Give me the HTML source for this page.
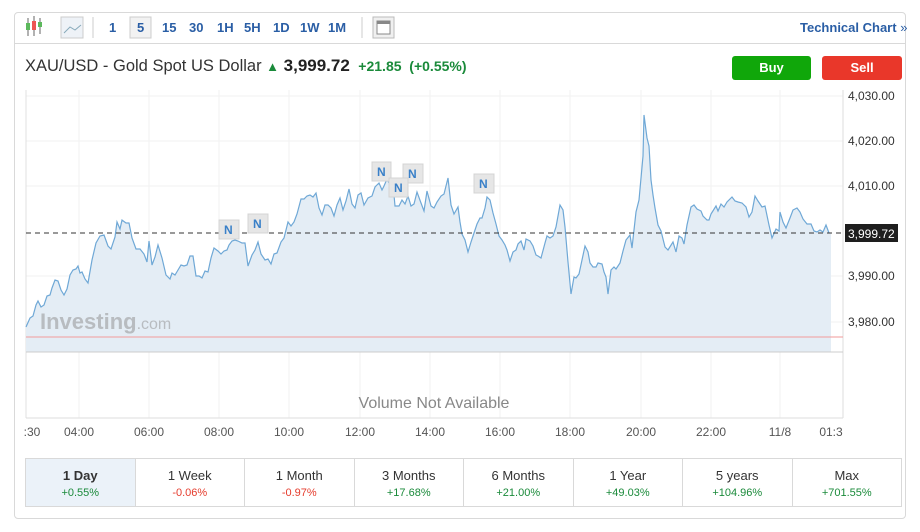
<!DOCTYPE html>
<html><head><meta charset="utf-8"><style>
body{margin:0;width:920px;height:532px;background:#fff;font-family:"Liberation Sans",Arial,sans-serif;overflow:hidden;position:relative}
.card{position:absolute;left:14px;top:12px;width:890px;height:505px;border:1px solid #d9d9d9;border-radius:4px}
.tb{position:absolute;left:14px;top:12px;width:891px;height:31px;border-bottom:1px solid #d9d9d9}
.t{position:absolute;top:20px;font-size:13px;font-weight:bold;color:#2a5ea5}
.title{position:absolute;left:25px;top:56px;font-size:16.5px;color:#333}
.btn{position:absolute;top:56px;height:24px;border-radius:3px;color:#fff;font-weight:bold;font-size:13px;text-align:center;line-height:24px}
.tabs{position:absolute;left:25px;top:458px;width:877px;height:49px;border:1px solid #d9d9d9;display:flex;box-sizing:border-box}
.tab{flex:1;border-right:1px solid #d9d9d9;text-align:center;font-size:13px;color:#333;padding-top:9px;box-sizing:border-box}
.tab:last-child{border-right:none}
.tab b{display:block;font-size:11px;margin-top:4px;font-weight:normal}
.g{color:#1a8a3a}.r{color:#e53b2c}
</style></head><body>
<div class="card"></div>
<div class="tb"></div>
<svg style="position:absolute;left:0;top:0" width="920" height="60">
<g stroke="#666" stroke-width="1"><line x1="28" y1="18" x2="28" y2="36"/><line x1="34" y1="16" x2="34" y2="36"/><line x1="40" y1="18" x2="40" y2="34"/></g>
<rect x="26" y="23" width="4" height="7" fill="#5cb85c"/><rect x="32" y="21" width="4" height="9" fill="#e55"/><rect x="38" y="22" width="4" height="5" fill="#5cb85c"/>
<rect x="61" y="17" width="22" height="21" fill="#eef2f7" stroke="#ccc"/><polyline points="64,33 70,27 75,30 81,25" fill="none" stroke="#8ab" stroke-width="1"/>
<line x1="93" y1="17" x2="93" y2="38" stroke="#ccc"/>
<rect x="130" y="17" width="21" height="21" fill="#f2f2f2" stroke="#ccc"/>
<line x1="362" y1="17" x2="362" y2="38" stroke="#ccc"/>
<rect x="373" y="17" width="21" height="21" fill="#f0f0f0" stroke="#bbb"/><rect x="377" y="21" width="13" height="13" fill="#fff" stroke="#888"/><rect x="377" y="21" width="13" height="3" fill="#888"/>
</svg>
<div class="t" style="left:109px">1</div><div class="t" style="left:137px">5</div><div class="t" style="left:162px">15</div><div class="t" style="left:189px">30</div><div class="t" style="left:217px">1H</div><div class="t" style="left:244px">5H</div><div class="t" style="left:273px">1D</div><div class="t" style="left:300px">1W</div><div class="t" style="left:328px">1M</div>
<div class="t" style="left:800px">Technical Chart <span style="font-weight:normal">»</span></div>
<div class="title">XAU/USD - Gold Spot US Dollar <span style="color:#1a8a3a;font-size:13px">&#9650;</span> <b style="font-size:17px;color:#222">3,999.72</b> <b style="font-size:14px;color:#1a8a3a">&nbsp;+21.85&nbsp; (+0.55%)</b></div>
<div class="btn" style="left:732px;width:79px;background:#10a70a">Buy</div>
<div class="btn" style="left:822px;width:80px;background:#e9372a">Sell</div>
<svg style="position:absolute;left:0;top:0" width="920" height="450" font-family="Liberation Sans,Arial,sans-serif">
<g stroke="#f2f2f2"><line x1="79" y1="90" x2="79" y2="418"/><line x1="149" y1="90" x2="149" y2="418"/><line x1="219" y1="90" x2="219" y2="418"/><line x1="289" y1="90" x2="289" y2="418"/><line x1="360" y1="90" x2="360" y2="418"/><line x1="430" y1="90" x2="430" y2="418"/><line x1="500" y1="90" x2="500" y2="418"/><line x1="570" y1="90" x2="570" y2="418"/><line x1="641" y1="90" x2="641" y2="418"/><line x1="711" y1="90" x2="711" y2="418"/><line x1="780" y1="90" x2="780" y2="418"/>
<line x1="26" y1="96" x2="843" y2="96"/><line x1="26" y1="141" x2="843" y2="141"/><line x1="26" y1="186" x2="843" y2="186"/><line x1="26" y1="276" x2="843" y2="276"/><line x1="26" y1="322" x2="843" y2="322"/></g>
<line x1="26" y1="90" x2="26" y2="418" stroke="#e0e0e0"/>
<line x1="843" y1="90" x2="843" y2="418" stroke="#ddd"/>
<line x1="26" y1="418" x2="843" y2="418" stroke="#ddd"/>
<polygon fill="#e4edf5" points="26,352 26,327 30,318 33,316 36,305 38,301 41,307 44,305 47,296 50,295 52,288 55,280 58,281 61,290 64,295 67,289 70,275 73,270 76,269 78,266 80,273 82,272 85,279 88,283 92,260 96,243 100,236 104,235 108,246 111,249 115,237 117,222 120,229 122,220 126,223 129,223 132,238 136,249 140,249 144,254 147,262 149,241 152,265 155,257 158,245 162,258 166,275 170,279 172,273 175,275 178,270 181,265 184,266 187,265 190,256 193,256 196,276 199,276 202,278 205,271 208,272 211,258 214,248 218,251 221,254 224,251 227,250 229,245 232,241 235,240 238,241 242,243 245,243 248,266 252,255 255,250 258,242 261,254 265,260 268,259 271,264 274,254 277,253 281,242 284,238 288,222 291,226 294,222 297,214 301,199 304,199 307,196 310,195 313,197 316,193 319,208 322,215 325,205 328,205 331,208 334,216 337,205 340,198 343,210 346,201 349,189 352,204 355,208 358,195 361,193 364,205 368,198 372,196 375,187 379,183 382,190 384,186 387,179 390,185 393,184 395,206 399,206 402,200 405,204 408,196 411,206 414,204 417,192 421,203 424,211 427,191 431,206 434,208 437,202 441,196 444,194 448,178 451,205 454,214 458,207 460,222 462,234 465,240 468,252 471,242 474,233 477,224 480,218 482,218 485,208 487,197 490,200 493,213 496,224 499,236 502,240 505,245 507,250 510,261 513,252 516,250 518,244 521,241 524,250 526,239 530,241 533,246 536,255 538,256 541,258 545,243 547,236 550,238 553,236 556,227 560,205 563,210 565,227 568,262 571,294 574,277 576,278 579,274 582,260 585,246 588,252 590,263 593,267 596,267 598,263 602,264 604,272 606,277 608,294 611,270 614,267 616,269 620,263 623,251 626,240 630,235 632,248 636,212 639,200 643,156 644,115 647,138 649,146 651,180 653,195 655,208 658,225 661,231 665,247 668,250 673,242 676,252 679,236 682,238 684,244 687,225 691,207 694,205 697,209 701,211 703,216 707,220 709,220 711,214 716,206 718,211 721,204 724,207 727,202 732,197 735,201 738,202 742,203 746,207 749,217 752,212 755,196 758,201 762,207 765,206 769,225 772,238 776,229 779,231 780,212 783,222 786,228 790,218 793,210 797,208 800,212 803,219 807,224 811,224 814,231 817,232 820,230 823,232 826,225 829,233 831,233 831,352"/>
<polyline fill="none" stroke="#6fa8d6" stroke-width="1.2" points="26,327 30,318 33,316 36,305 38,301 41,307 44,305 47,296 50,295 52,288 55,280 58,281 61,290 64,295 67,289 70,275 73,270 76,269 78,266 80,273 82,272 85,279 88,283 92,260 96,243 100,236 104,235 108,246 111,249 115,237 117,222 120,229 122,220 126,223 129,223 132,238 136,249 140,249 144,254 147,262 149,241 152,265 155,257 158,245 162,258 166,275 170,279 172,273 175,275 178,270 181,265 184,266 187,265 190,256 193,256 196,276 199,276 202,278 205,271 208,272 211,258 214,248 218,251 221,254 224,251 227,250 229,245 232,241 235,240 238,241 242,243 245,243 248,266 252,255 255,250 258,242 261,254 265,260 268,259 271,264 274,254 277,253 281,242 284,238 288,222 291,226 294,222 297,214 301,199 304,199 307,196 310,195 313,197 316,193 319,208 322,215 325,205 328,205 331,208 334,216 337,205 340,198 343,210 346,201 349,189 352,204 355,208 358,195 361,193 364,205 368,198 372,196 375,187 379,183 382,190 384,186 387,179 390,185 393,184 395,206 399,206 402,200 405,204 408,196 411,206 414,204 417,192 421,203 424,211 427,191 431,206 434,208 437,202 441,196 444,194 448,178 451,205 454,214 458,207 460,222 462,234 465,240 468,252 471,242 474,233 477,224 480,218 482,218 485,208 487,197 490,200 493,213 496,224 499,236 502,240 505,245 507,250 510,261 513,252 516,250 518,244 521,241 524,250 526,239 530,241 533,246 536,255 538,256 541,258 545,243 547,236 550,238 553,236 556,227 560,205 563,210 565,227 568,262 571,294 574,277 576,278 579,274 582,260 585,246 588,252 590,263 593,267 596,267 598,263 602,264 604,272 606,277 608,294 611,270 614,267 616,269 620,263 623,251 626,240 630,235 632,248 636,212 639,200 643,156 644,115 647,138 649,146 651,180 653,195 655,208 658,225 661,231 665,247 668,250 673,242 676,252 679,236 682,238 684,244 687,225 691,207 694,205 697,209 701,211 703,216 707,220 709,220 711,214 716,206 718,211 721,204 724,207 727,202 732,197 735,201 738,202 742,203 746,207 749,217 752,212 755,196 758,201 762,207 765,206 769,225 772,238 776,229 779,231 780,212 783,222 786,228 790,218 793,210 797,208 800,212 803,219 807,224 811,224 814,231 817,232 820,230 823,232 826,225 829,233"/>
<line x1="26" y1="337" x2="843" y2="337" stroke="#f29a9a" stroke-width="1"/>
<line x1="26" y1="352" x2="843" y2="352" stroke="#ccc"/>
<line x1="26" y1="233" x2="843" y2="233" stroke="#333" stroke-dasharray="5,4"/>
<text x="40" y="329" font-size="22" font-weight="bold" fill="#b8bcc0">Investing<tspan font-size="16" font-weight="normal">.com</tspan></text>
<g font-size="12" font-weight="bold" fill="#3a80c8">
<rect x="219" y="220" width="20" height="19" fill="#e6e6e6" stroke="#d4d4d4"/><text x="224" y="234">N</text>
<rect x="248" y="214" width="20" height="19" fill="#e6e6e6" stroke="#d4d4d4"/><text x="253" y="228">N</text>
<rect x="372" y="162" width="19" height="19" fill="#e6e6e6" stroke="#d4d4d4"/><text x="377" y="176">N</text>
<rect x="403" y="164" width="20" height="19" fill="#e6e6e6" stroke="#d4d4d4"/><text x="408" y="178">N</text>
<rect x="389" y="178" width="19" height="19" fill="#e6e6e6" stroke="#d4d4d4"/><text x="394" y="192">N</text>
<rect x="474" y="174" width="20" height="19" fill="#e6e6e6" stroke="#d4d4d4"/><text x="479" y="188">N</text>
</g>
<g font-size="12" fill="#333"><text x="848" y="100">4,030.00</text><text x="848" y="145">4,020.00</text><text x="848" y="190">4,010.00</text><text x="848" y="280">3,990.00</text><text x="848" y="326">3,980.00</text></g>
<rect x="845" y="224" width="53" height="18" fill="#1e1e1e"/><text x="848" y="238" font-size="12" fill="#fff">3,999.72</text>
<text x="434" y="408" font-size="16" fill="#888" text-anchor="middle">Volume Not Available</text>
<g font-size="12" fill="#555" text-anchor="middle"><text x="32" y="436">:30</text><text x="79" y="436">04:00</text><text x="149" y="436">06:00</text><text x="219" y="436">08:00</text><text x="289" y="436">10:00</text><text x="360" y="436">12:00</text><text x="430" y="436">14:00</text><text x="500" y="436">16:00</text><text x="570" y="436">18:00</text><text x="641" y="436">20:00</text><text x="711" y="436">22:00</text><text x="780" y="436">11/8</text><text x="831" y="436">01:3</text></g>
</svg>
<div class="tabs">
<div class="tab" style="background:#ebf2f9;font-weight:bold">1 Day<b class="g">+0.55%</b></div>
<div class="tab">1 Week<b class="r">-0.06%</b></div>
<div class="tab">1 Month<b class="r">-0.97%</b></div>
<div class="tab">3 Months<b class="g">+17.68%</b></div>
<div class="tab">6 Months<b class="g">+21.00%</b></div>
<div class="tab">1 Year<b class="g">+49.03%</b></div>
<div class="tab">5 years<b class="g">+104.96%</b></div>
<div class="tab">Max<b class="g">+701.55%</b></div>
</div>
</body></html>
